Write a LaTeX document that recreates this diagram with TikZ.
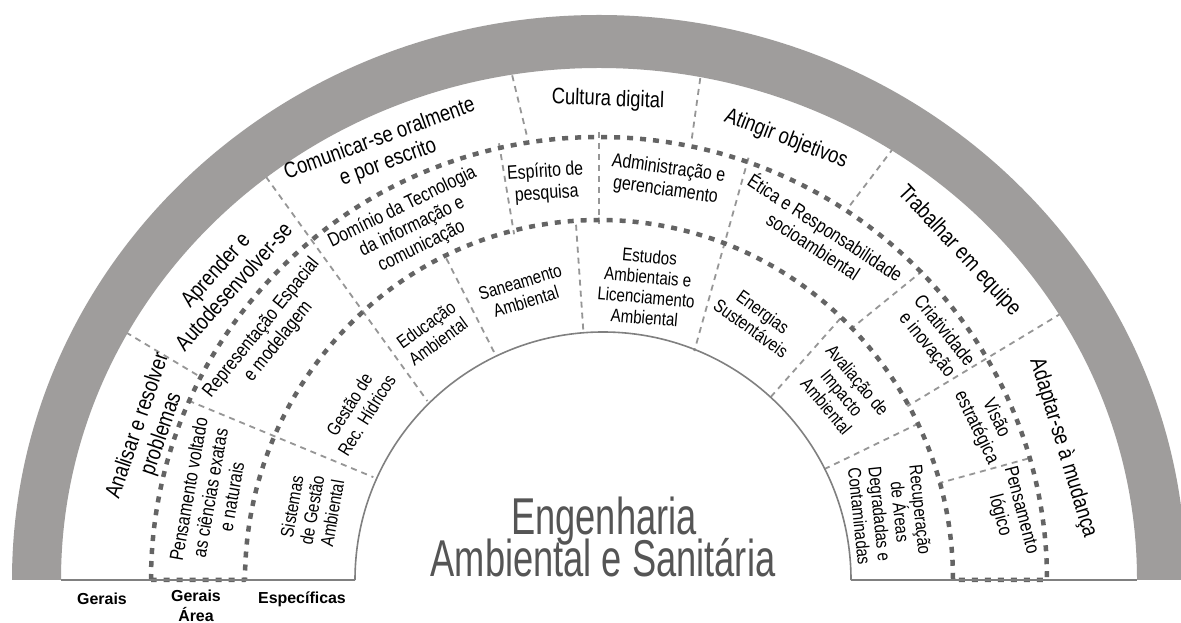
\documentclass[tikz,border=0pt]{standalone}
\usepackage{fontspec}
\setmainfont{Liberation Sans}
\newfontfamily\condfont{Liberation Sans}[FakeStretch=0.82]
\newfontfamily\titlefont{Liberation Sans}[FakeStretch=0.7]
\definecolor{bandgray}{RGB}{159,157,156}
\definecolor{dotgray}{RGB}{100,100,100}
\definecolor{dashgray}{RGB}{150,150,150}
\definecolor{linegray}{RGB}{128,128,128}
\definecolor{titlegray}{RGB}{85,85,85}
\tikzset{
  ger/.style={font=\condfont\fontsize{22.5}{25}\selectfont,align=center,inner sep=0pt},
  area/.style={font=\condfont\fontsize{19.5}{22}\selectfont,align=center,inner sep=0pt},
  espec/.style={font=\condfont\fontsize{18.5}{20.5}\selectfont,align=center,inner sep=0pt},
  col/.style={font=\bfseries\fontsize{16}{20}\selectfont,align=center,inner sep=0pt},
  thindash/.style={draw=dashgray,line width=1.8bp,dash pattern=on 6bp off 5bp},
  ringdots/.style={draw=dotgray,line width=4.5bp,dash pattern=on 6bp off 7bp},
  arcline/.style={draw=linegray,line width=1.6bp},
}
\begin{document}
\begin{tikzpicture}[line join=bevel,]
\useasboundingbox (0bp,0bp) rectangle (1181bp,623bp);
\fill[white] (0bp,0bp) rectangle (1181bp,623bp);
%%
\begin{scope}[shift={(599bp,43bp)}]
  % dividers
  \draw[thindash] (152.3:545bp) -- (153:448bp);
  \draw[thindash] (129.4:545bp) -- (133.8:248bp);
  \draw[thindash] (100:545bp) -- (99.2:448bp);
  \draw[thindash] (78.8:545bp) -- (78.1:448bp);
  \draw[thindash] (55.6:545bp) -- (56.2:448bp);
  \draw[thindash] (30:545bp) -- (29.4:354bp);
  \draw[thindash] (156.4:448bp) -- (155.5:248bp);
  \draw[thindash] (102.9:448bp) -- (103.8:356bp);
  \draw[thindash] (90:448bp) -- (90:356bp);
  \draw[thindash] (70.5:448bp) -- (67.4:248bp);
  \draw[thindash] (43.7:448bp) -- (44.9:356bp);
  \draw[thindash] (15.8:446bp) -- (15.9:354bp);
  \draw[thindash] (115.4:356bp) -- (114.7:248bp);
  \draw[thindash] (93.7:356bp) -- (93.6:248bp);
  \draw[thindash] (47.3:356bp) -- (46.8:248bp);
  \draw[thindash] (26.1:356bp) -- (26.2:248bp);
  % band
  \fill[bandgray] (-587bp,0bp) arc[start angle=180,end angle=0,x radius=587bp,y radius=565bp]
    -- (538bp,0bp) arc[start angle=0,end angle=180,x radius=538bp,y radius=512bp] -- cycle;
  % rings
  \draw[ringdots] (-448bp,0bp) arc[start angle=180,end angle=0,x radius=448bp,y radius=443bp]
    -- (354bp,0bp) arc[start angle=0,end angle=180,x radius=354bp,y radius=360bp] -- cycle;
  \draw[arcline] (-244bp,0bp) arc[start angle=180,end angle=0,radius=248bp];
  \draw[arcline] (-538bp,0bp) -- (-244bp,0bp);
  \draw[arcline] (252bp,0bp) -- (538bp,0bp);
\end{scope}
%
\node (ger_0) at (150bp,193bp) [ger,rotate=71] {Analisar e resolver\\problemas};
\node (ger_1) at (224bp,345bp) [ger,rotate=48] {Aprender e\\Autodesenvolver-se};
\node (ger_2) at (384bp,472bp) [ger,rotate=20] {Comunicar-se oralmente\\e por escrito};
\node (ger_3) at (608bp,523bp) [ger,rotate=-2] {Cultura digital};
\node (ger_4) at (786bp,484bp) [ger,rotate=-21] {Atingir objetivos};
\node (ger_5) at (959bp,372bp) [ger,rotate=-47] {Trabalhar em equipe};
\node (ger_6) at (1063bp,175bp) [ger,rotate=-73] {Adaptar-se à mudança};
%
\node (area_0) at (210bp,130bp) [area,rotate=80] {Pensamento voltado\\as ciências exatas\\e naturais};
\node (area_1) at (270bp,288bp) [area,rotate=51] {Representação Espacial\\e modelagem};
\node (area_2) at (412bp,396bp) [area,rotate=26] {Domínio da Tecnologia\\da informação e\\comunicação};
\node (area_3) at (546bp,440bp) [area,rotate=4] {Espírito de\\pesquisa};
\node (area_4) at (667bp,443bp) [area,rotate=-8] {Administração e\\gerenciamento};
\node (area_5) at (820bp,387bp) [area,rotate=-33] {Ética e Responsabilidade\\socioambiental};
\node (area_6) at (935bp,285bp) [area,rotate=-51] {Criatividade\\e inovação};
\node (area_7) at (986bp,200bp) [area,rotate=-64] {Visão\\estratégica};
\node (area_8) at (1010bp,110bp) [area,rotate=-75] {Pensamento\\lógico};
%
\node (espec_0) at (312bp,113bp) [espec,rotate=80] {Sistemas\\de Gestão\\Ambiental};
\node (espec_1) at (358bp,213bp) [espec,rotate=58] {Gestão de\\Rec. Hídricos};
\node (espec_2) at (432bp,290bp) [espec,rotate=36] {Educação\\Ambiental};
\node (espec_3) at (523bp,331bp) [espec,rotate=17] {Saneamento\\Ambiental};
\node (espec_4) at (647bp,336bp) [espec,rotate=-5] {Estudos\\Ambientais e\\Licenciamento\\Ambiental};
\node (espec_5) at (757bp,303bp) [espec,rotate=-36] {Energias\\Sustentáveis};
\node (espec_6) at (842bp,230bp) [espec,rotate=-50] {Avaliação de\\Impacto\\Ambiental};
\node (espec_7) at (890bp,110bp) [espec,rotate=-84] {Recuperação\\de Áreas\\Degradadas e\\Contaminadas};
%
\node (title_0) at (604bp,88bp) [anchor=base,text=titlegray,font=\titlefont\fontsize{52}{42}\selectfont] {Engenharia};
\node (title_1) at (603bp,46bp) [anchor=base,text=titlegray,font=\titlefont\fontsize{52}{42}\selectfont] {Ambiental e Sanitária};
%
\node (col_0) at (102bp,24bp) [col] {Gerais};
\node (col_1) at (196bp,33bp) [col,anchor=north] {Gerais\\Área};
\node (col_2) at (302bp,24bp) [col] {Específicas};
%
\end{tikzpicture}
\end{document}
